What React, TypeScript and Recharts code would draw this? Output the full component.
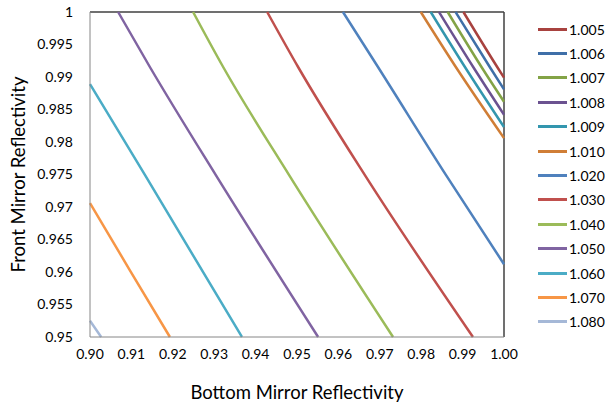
import React from 'react';
import { LineChart, Line, XAxis, YAxis, ReferenceLine } from 'recharts';

// contour levels and their colours (Excel 2010 palette)
const levels = ['1.005', '1.006', '1.007', '1.008', '1.009', '1.010', '1.020', '1.030', '1.040', '1.050', '1.060', '1.070', '1.080'];
const colors = ['#A8423F', '#3F6FA8', '#83A346', '#6B5290', '#3396AE', '#D07E36', '#4F81BD', '#C0504D', '#9BBB59', '#8064A2', '#4BACC6', '#F79646', '#A5B8D7'];

// bottom mirror reflectivity (x) along each contour
const bottomValues = [
  [0.9902, 0.9984, 1.0],
  [0.9883, 0.9966, 1.0],
  [0.9864, 0.9946, 1.0],
  [0.9843, 0.9926, 1.0],
  [0.9823, 0.9906, 1.0],
  [0.9799, 0.9884, 1.0],
  [0.9611, 0.9696, 0.986, 1.0],
  [0.9428, 0.9503, 0.9664, 0.9925],
  [0.9249, 0.9322, 0.9481, 0.9732],
  [0.9068, 0.9145, 0.9304, 0.9551],
  [0.9, 0.9133, 0.9367],
  [0.9, 0.9096, 0.9193],
  [0.9, 0.9027],
];

// front mirror reflectivity (y) along each contour
const frontValues = [
  [1.0, 0.9915, 0.9899],
  [1.0, 0.9915, 0.9881],
  [1.0, 0.9915, 0.9862],
  [1.0, 0.9915, 0.9842],
  [1.0, 0.9915, 0.9823],
  [1.0, 0.9915, 0.9806],
  [1.0, 0.9915, 0.9749, 0.9612],
  [1.0, 0.9915, 0.9749, 0.95],
  [1.0, 0.9915, 0.9749, 0.95],
  [1.0, 0.9915, 0.9749, 0.95],
  [0.9889, 0.9749, 0.95],
  [0.9706, 0.9603, 0.95],
  [0.9525, 0.95],
];

const xTicks = [0.9, 0.91, 0.92, 0.93, 0.94, 0.95, 0.96, 0.97, 0.98, 0.99, 1.0];
const yTicks = [0.95, 0.955, 0.96, 0.965, 0.97, 0.975, 0.98, 0.985, 0.99, 0.995, 1];

const font = 'Lato, "Open Sans", sans-serif';

export default function App() {
  return (
    <div style={{ position: 'absolute', left: 0, top: 0, width: 605, height: 402, background: '#fff', fontFamily: font }}>
      <LineChart width={605} height={402} margin={{ top: 12, right: 101, left: 0, bottom: 0 }}>
        <XAxis
          type="number"
          dataKey="x"
          domain={[0.9, 1]}
          ticks={xTicks}
          tickFormatter={(v: number) => v.toFixed(2)}
          height={65}
          tickSize={0}
          tickMargin={12}
          stroke="#868686"
          tick={{ fill: '#000', fontSize: 14, fontFamily: font }}
          allowDuplicatedCategory={false}
          label={{ value: 'Bottom Mirror Reflectivity', position: 'insideBottom', offset: 3, fill: '#000', fontSize: 18.5, fontFamily: font }}
        />
        <YAxis
          type="number"
          domain={[0.95, 1]}
          ticks={yTicks}
          tickFormatter={(v: number) => String(+v.toFixed(3))}
          width={90}
          tickSize={0}
          tickMargin={17}
          stroke="#868686"
          tick={{ fill: '#000', fontSize: 14, fontFamily: font }}
          label={{ value: 'Front Mirror Reflectivity', angle: -90, position: 'insideLeft', offset: 18, fill: '#000', fontSize: 18.5, fontFamily: font, style: { textAnchor: 'middle' } }}
        />
        <ReferenceLine y={1} stroke="#404040" strokeWidth={1.5} />
        <ReferenceLine x={1} stroke="#404040" strokeWidth={1.5} />
        {levels.map((lv, i) => (
          <Line
            key={lv}
            data={bottomValues[i].map((x, j) => ({ x, y: frontValues[i][j] }))}
            dataKey="y"
            name={lv}
            type="monotone"
            stroke={colors[i]}
            strokeWidth={2.5}
            dot={false}
            isAnimationActive={false}
          />
        ))}
      </LineChart>
      <div style={{ position: 'absolute', left: 538, top: 17 }}>
        {levels.map((lv, i) => (
          <div key={lv} style={{ display: 'flex', alignItems: 'center', height: 24.4 }}>
            <div style={{ width: 29, height: 3, background: colors[i], marginRight: 2 }} />
            <span style={{ fontSize: 14, color: '#000', fontFamily: font }}>{lv}</span>
          </div>
        ))}
      </div>
    </div>
  );
}
